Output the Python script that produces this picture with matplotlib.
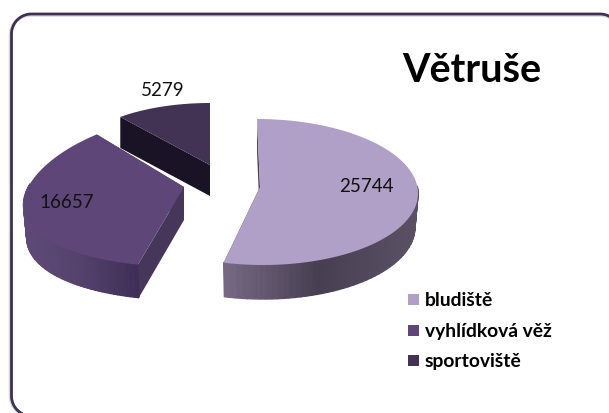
import numpy as np
import matplotlib
matplotlib.use("Agg")
import matplotlib.pyplot as plt
from matplotlib.patches import Rectangle
from matplotlib.colors import to_rgb

title = "Větruše"
categories = ["bludiště", "vyhlídková věž", "sportoviště"]
values = [25744, 16657, 5279]

plt.rcParams['font.family'] = ['Lato', 'DejaVu Sans']

top_colors = ["#b09fc6", "#5e4778", "#423254"]
side_colors = ["#4a4058", "#46365a", "#1a1225"]
# ax, ay = apex, cy = centre of the ellipse, k = perspective, s = skew, sc = lower rim shrink
shapes = [
    dict(ax=260, ay=187, cy=192, rx=158, ry=73, k=0.0, s=-3, h=34, sc=0.98),
    dict(ax=184, ay=187, cy=192, rx=158, ry=75, k=0.18, s=0, h=33, sc=0.98),
    dict(ax=210, ay=165, cy=163, rx=140, ry=60, k=0.0, s=0, h=31, sc=1.0),
]
wall_grad = [("#7a6a86", "#473e52", "#5a5164"), ("#5e4a78", "#54426c", "#3f2f56"), ("#1a1225", "#1a1225", "#1a1225")]
label_pos = [(366, 186), (67, 202), (163, 90)]
legend_y = [300, 331, 361]


def rim(sh, t):
    c = np.cos(t)
    x = sh["ax"] + sh["rx"] * np.sin(t) * (1 - sh["k"] * c) + sh["s"] * c
    y = sh["cy"] - sh["ry"] * c
    return x, y


def mix(stops, f):
    stops = [np.array(to_rgb(c)) for c in stops]
    if f < 0.5:
        return stops[0] + (stops[1] - stops[0]) * f * 2
    return stops[1] + (stops[2] - stops[1]) * (f - 0.5) * 2


def draw_wedge(ax, sh, a0, a1, top, side, grad):
    t = np.radians(np.linspace(a0, a1, 90))
    x, y = rim(sh, t)
    h = sh["h"]
    px, py = sh["ax"], sh["ay"]
    lx = px + (x - px) * sh["sc"]
    # flat cut faces
    for i in (0, -1):
        ax.fill([px, x[i], lx[i], px], [py, y[i], y[i] + h, py + h], color=side, lw=0, zorder=2)
    # outer wall, strip by strip for the gradient
    x0, x1 = x.min(), x.max()
    for i in range(len(t) - 1):
        if np.cos(t[i]) > 0.1:
            continue
        f = (x[i] - x0) / (x1 - x0)
        ax.fill([x[i], x[i + 1], lx[i + 1], lx[i]], [y[i], y[i + 1], y[i + 1] + h, y[i] + h],
                color=mix(grad, f), lw=1.0, zorder=3)
    ax.fill(np.r_[px, x], np.r_[py, y], color=top, lw=0, zorder=4)


def frame(ax, left, top, right, bottom, r, color, lw):
    # only left and top sides, the others fall outside the picture
    a = np.radians(np.linspace(0, 90, 30))
    bl_x = left + r - r * np.cos(a)
    bl_y = bottom - r + r * np.sin(a)
    tl_x = left + r - r * np.cos(a)
    tl_y = top + r - r * np.sin(a)
    tr_x = right - r + r * np.sin(a)
    tr_y = top + r - r * np.cos(a)
    ax.plot(np.r_[bl_x[::-1], tl_x, tr_x], np.r_[bl_y[::-1], tl_y, tr_y], color=color, lw=lw, zorder=1,
            solid_capstyle="butt")


fig = plt.figure(figsize=(6.09, 4.13), dpi=100)
ax = fig.add_axes([0, 0, 1, 1])
ax.set_xlim(0, 609)
ax.set_ylim(413, 0)
ax.axis("off")

frame(ax, 10.5, 15, 620, 416, 20, "#d8d8d8", 2.5)
frame(ax, 11.5, 14, 620, 416, 20, "#3f3151", 2.0)

angles = np.cumsum([0] + [v / sum(values) * 360 for v in values])
for i in range(len(values)):
    draw_wedge(ax, shapes[i], angles[i], angles[i + 1], top_colors[i], side_colors[i], wall_grad[i])

for v, (lx, ly) in zip(values, label_pos):
    ax.text(lx, ly, str(v), fontsize=13.5, color="#111111", ha="center", va="center", zorder=6)

ax.text(472, 71, title, fontsize=28.5, fontweight="bold", color="black", ha="center", va="center", zorder=6)

for name, col, ly in zip(categories, top_colors, legend_y):
    ax.add_patch(Rectangle((408, ly - 6), 11, 11, fc=col, ec="none", zorder=5))
    ax.text(425, ly, name, fontsize=13.9, fontweight="bold", color="black", ha="left", va="center", zorder=6)

fig.savefig("out.png", dpi=100)
